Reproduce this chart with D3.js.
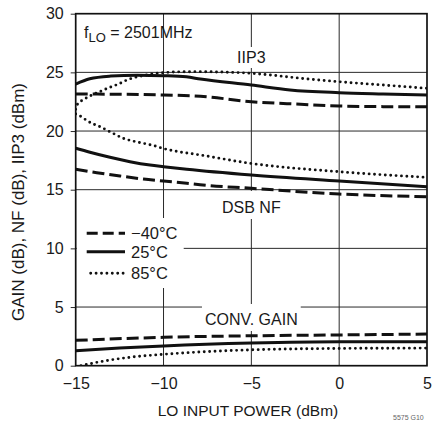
<!DOCTYPE html>
<html>
<head>
<meta charset="utf-8">
<script src="https://cdn.jsdelivr.net/npm/d3@7"></script>
<style>
  html, body { margin: 0; padding: 0; background: #fff; }
  svg { display: block; }
  text { font-family: "Liberation Sans", Arial, sans-serif; fill: #1a1a1a; }
</style>
</head>
<body>
<svg id="chart" width="432" height="421"></svg>
<script>
// Axis ticks
const xTicks = [-15, -10, -5, 0, 5];
const yTicks = [0, 5, 10, 15, 20, 25, 30];
const xGrid = [-10, -5, 0];
const yGrid = [5, 10, 15, 20, 25];

// IIP3 (dBm) vs LO input power (dBm)
const iip3Minus40 = [[-15, 23.15], [-12.5, 23.14], [-10, 23.07], [-7.9, 22.96], [-5, 22.5], [-2.2, 22.28], [0, 22.13], [2.5, 22.08], [5, 22.07]];
const iip3Plus25 = [[-15, 24.0], [-14.2, 24.45], [-13, 24.68], [-11.5, 24.76], [-10, 24.72], [-8.7, 24.62], [-7.9, 24.43], [-5, 23.92], [-2.8, 23.5], [0, 23.27], [2.5, 23.16], [5, 23.07]];
const iip3Plus85 = [[-15, 21.85], [-14.9, 22.28], [-14.66, 22.59], [-14.37, 22.84], [-14, 23.13], [-13.62, 23.36], [-13.05, 23.73], [-12.57, 24.0], [-12.2, 24.27], [-11.8, 24.5], [-11.15, 24.72], [-10.67, 24.86], [-10, 24.97], [-9.25, 25.04], [-8, 25.06], [-6.8, 25.03], [-5, 24.92], [-2.2, 24.5], [0, 24.2], [2.5, 23.92], [5, 23.64]];

// DSB NF (dB)
const nfMinus40 = [[-15, 16.74], [-13.8, 16.45], [-12.48, 16.17], [-11.15, 15.91], [-10, 15.74], [-8.68, 15.55], [-7.92, 15.42], [-5, 15.12], [0, 14.63], [5, 14.4]];
const nfPlus25 = [[-15, 18.53], [-14.19, 18.19], [-13.05, 17.76], [-11.91, 17.39], [-10.77, 17.1], [-10, 16.96], [-8.68, 16.74], [-5, 16.25], [0, 15.74], [5, 15.26]];
const nfPlus85 = [[-15, 21.45], [-14.66, 21.2], [-14.37, 20.9], [-14, 20.6], [-13.62, 20.37], [-12.95, 19.86], [-12.29, 19.38], [-11.43, 19.04], [-10.67, 18.8], [-9.91, 18.47], [-9.16, 18.24], [-7.92, 17.96], [-5.08, 17.25], [0, 16.53], [5, 16.05]];

// Conversion gain (dB)
const gainMinus40 = [[-15, 2.16], [-10, 2.42], [-5, 2.55], [0, 2.62], [5, 2.7]];
const gainPlus25 = [[-15, 1.28], [-12.5, 1.5], [-10, 1.68], [-5, 1.93], [0, 2.05], [5, 2.05]];
const gainPlus85 = [[-14.7, 0.0], [-13.6, 0.34], [-12, 0.7], [-10, 0.97], [-7.5, 1.2], [-5, 1.35], [0, 1.47], [5, 1.5]];

const tempLabels = ["\u221240\u00B0C", "25\u00B0C", "85\u00B0C"];
const curveLabels = ["IIP3", "DSB NF", "CONV. GAIN"];

const FONT = 16;
const svg = d3.select("#chart");
const x = d3.scaleLinear().domain([-15, 5]).range([75.7, 427]);
const y = d3.scaleLinear().domain([0, 30]).range([365.7, 13.7]);
const [x0, x1] = x.range();
const [yb, yt] = y.range();

// line styles per temperature
const styles = [
  { dash: "12,5", cap: "butt", width: 3 },
  { dash: null, cap: "butt", width: 3 },
  { dash: "0,5.4", cap: "round", width: 2.9 }
];

// grid
const grid = svg.append("g").attr("stroke", "#2a2a2a").attr("stroke-width", 1);
grid.selectAll("line.v").data(xGrid).join("line")
  .attr("x1", d => x(d)).attr("x2", d => x(d)).attr("y1", yt).attr("y2", yb);
grid.selectAll("line.h").data(yGrid).join("line")
  .attr("x1", x0).attr("x2", x1).attr("y1", d => y(d)).attr("y2", d => y(d));

// axes
const xAxis = svg.append("g").attr("transform", `translate(0,${yb})`)
  .call(d3.axisBottom(x).tickValues(xTicks).tickSize(0).tickPadding(12));
const yAxis = svg.append("g").attr("transform", `translate(${x0},0)`)
  .call(d3.axisLeft(y).tickValues(yTicks).tickSize(5).tickPadding(7));
[xAxis, yAxis].forEach(a => {
  a.select(".domain").remove();
  a.selectAll("text").attr("font-size", FONT).attr("fill", "#1a1a1a")
    .style("font-family", '"Liberation Sans", Arial, sans-serif');
  a.selectAll("line").attr("stroke", "#2a2a2a");
});

// curve labels with white backing boxes that break the grid
const labelSpecs = [
  { text: curveLabels[0], yBase: 63, box: [47, 68], padX: 3 },
  { text: curveLabels[1], yBase: 213, box: [191, 219], padX: 3 },
  { text: curveLabels[2], yBase: 325, box: [304, 331], padX: 3 }
];
labelSpecs.forEach(s => {
  const g = svg.append("g");
  const r = g.append("rect").attr("fill", "#fff");
  const t = g.append("text").attr("x", x(-5)).attr("y", s.yBase)
    .attr("text-anchor", "middle").attr("font-size", FONT).text(s.text);
  const bb = t.node().getBBox();
  r.attr("x", bb.x - s.padX).attr("width", bb.width + 2 * s.padX)
    .attr("y", s.box[0]).attr("height", s.box[1] - s.box[0]);
});

// frequency note
const note = svg.append("text").attr("x", 84).attr("y", 37.5).attr("font-size", FONT);
note.append("tspan").text("f");
note.append("tspan").attr("dy", 4.5).attr("font-size", 13).text("LO");
note.append("tspan").attr("dy", -4.5).text(" = 2501MHz");

// legend
svg.append("rect").attr("x", x0 + 1).attr("y", 218).attr("width", 107).attr("height", 70).attr("fill", "#fff");
const legendY = [233.3, 251.7, 273.3];
tempLabels.forEach((lab, i) => {
  const st = styles[i];
  svg.append("line")
    .attr("x1", i === 2 ? 90.7 : 86.7).attr("x2", 125)
    .attr("y1", legendY[i]).attr("y2", legendY[i])
    .attr("stroke", "#111").attr("stroke-width", st.width)
    .attr("stroke-dasharray", i === 0 ? "11,5" : st.dash)
    .attr("stroke-linecap", st.cap);
  svg.append("text").attr("x", 131).attr("y", legendY[i] + 6)
    .attr("font-size", 16.5).text(lab);
});

// curves
svg.append("clipPath").attr("id", "plotClip").append("rect")
  .attr("x", x0).attr("y", yt).attr("width", x1 - x0).attr("height", yb - yt);
const line = d3.line().x(d => x(d[0])).y(d => y(d[1])).curve(d3.curveMonotoneX);
const series = [
  [iip3Minus40, 0], [iip3Plus25, 1], [iip3Plus85, 2],
  [nfMinus40, 0], [nfPlus25, 1], [nfPlus85, 2],
  [gainMinus40, 0], [gainPlus25, 1], [gainPlus85, 2]
];
const curves = svg.append("g").attr("clip-path", "url(#plotClip)");
series.forEach(([data, k]) => {
  const st = styles[k];
  curves.append("path").datum(data).attr("d", line)
    .attr("fill", "none").attr("stroke", "#111")
    .attr("stroke-width", st.width)
    .attr("stroke-dasharray", st.dash)
    .attr("stroke-linecap", st.cap)
    .attr("stroke-linejoin", "round");
});

// frame
svg.append("rect").attr("x", x0).attr("y", yt).attr("width", x1 - x0).attr("height", yb - yt)
  .attr("fill", "none").attr("stroke", "#111").attr("stroke-width", 1.7);

// axis titles
svg.append("text").attr("x", 248).attr("y", 416)
  .attr("text-anchor", "middle").attr("font-size", 15.5).text("LO INPUT POWER (dBm)");
svg.append("text").attr("transform", "translate(24,202) rotate(-90)")
  .attr("text-anchor", "middle").attr("font-size", 17).text("GAIN (dB), NF (dB), IIP3 (dBm)");

// figure id
svg.append("text").attr("x", 393).attr("y", 420).attr("font-size", 7)
  .style("fill", "#666").text("5575 G10");
</script>
</body>
</html>
